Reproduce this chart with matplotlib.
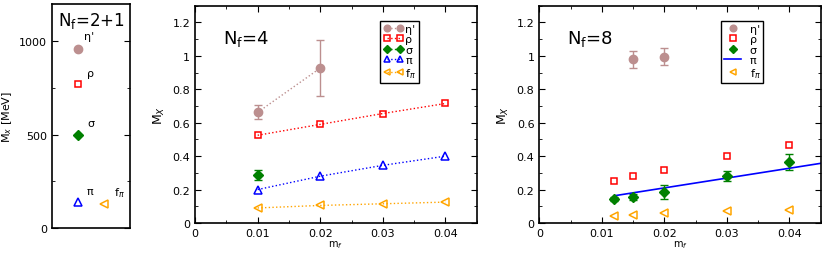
import matplotlib.pyplot as plt
from matplotlib.ticker import MultipleLocator

# -------------------------------------------------------------
# Data
# -------------------------------------------------------------
# Nf=2+1 (physical spectrum, MeV)
phys_labels = ["η'", "ρ", "σ", "π", "f$_\\pi$"]
phys_vals = [960, 770, 500, 138, 130]

# Nf=4
mf4 = [0.01, 0.02, 0.03, 0.04]
eta4_x = [0.01, 0.02]
eta4 = [0.662, 0.927]
eta4_err = [0.042, 0.17]
rho4 = [0.525, 0.59, 0.655, 0.715]
sig4_x = [0.01]
sig4 = [0.29]
sig4_err = [0.03]
pi4 = [0.20, 0.28, 0.345, 0.40]
fpi4 = [0.09, 0.105, 0.115, 0.125]

# Nf=8
mf8 = [0.012, 0.015, 0.02, 0.03, 0.04]
eta8_x = [0.015, 0.02]
eta8 = [0.98, 0.995]
eta8_err = [0.052, 0.05]
rho8 = [0.25, 0.28, 0.32, 0.403, 0.468]
sig8 = [0.145, 0.155, 0.185, 0.283, 0.363]
sig8_err = [0.012, 0.017, 0.04, 0.03, 0.048]
pi8_fit_x = [0.012, 0.045]
pi8_fit = [0.163, 0.357]
fpi8 = [0.043, 0.048, 0.058, 0.07, 0.079]

c_eta = '#bc8f8f'
c_rho = 'red'
c_sig = 'green'
c_pi = 'blue'
c_fpi = 'orange'

plt.rcParams['font.family'] = 'DejaVu Sans'
plt.rcParams['font.size'] = 8

fig = plt.figure(figsize=(8.3, 2.55), dpi=100)


def style_axes(ax):
    ax.tick_params(which='both', direction='in', top=True, right=True, labelsize=8)
    ax.tick_params(which='major', length=4)
    ax.tick_params(which='minor', length=2)
    for s in ax.spines.values():
        s.set_linewidth(1.2)


def mass_axes(ax):
    ax.set_xlim(0, 0.045)
    ax.set_ylim(0, 1.3)
    ax.xaxis.set_minor_locator(MultipleLocator(0.005))
    ax.yaxis.set_minor_locator(MultipleLocator(0.1))
    ax.set_xticks([0, 0.01, 0.02, 0.03, 0.04])
    ax.set_xticklabels(['0', '0.01', '0.02', '0.03', '0.04'])
    ax.set_yticks([0, 0.2, 0.4, 0.6, 0.8, 1.0, 1.2])
    ax.set_yticklabels(['0', '0.2', '0.4', '0.6', '0.8', '1', '1.2'])
    style_axes(ax)
    ax.set_xlabel('m$_f$', fontsize=7, labelpad=0)
    ax.set_ylabel('M$_X$', fontsize=9)


# -------------------------------------------------------------
# Panel 1: Nf=2+1
# -------------------------------------------------------------
ax1 = fig.add_axes([0.0627, 0.102, 0.094, 0.878])
ax1.set_xlim(0, 1)
ax1.set_ylim(0, 1200)
xs1 = [0.33, 0.33, 0.33, 0.33, 0.67]
ax1.plot(xs1[0], phys_vals[0], 'o', color=c_eta, ms=6)
ax1.plot(xs1[1], phys_vals[1], 's', mfc='none', mec=c_rho, ms=5, mew=1.1)
ax1.plot(xs1[2], phys_vals[2], 'D', color=c_sig, ms=5)
ax1.plot(xs1[3], phys_vals[3], '^', mfc='none', mec=c_pi, ms=6, mew=1.1)
ax1.plot(xs1[4], phys_vals[4], '<', mfc='none', mec=c_fpi, ms=6, mew=1.1)
offsets = [(0.08, 55), (0.12, 45), (0.12, 45), (0.12, 45), (0.12, 45)]
for x, v, lab, (dx, dy) in zip(xs1, phys_vals, phys_labels, offsets):
    ax1.text(x + dx, v + dy, lab, fontsize=8)
ax1.text(0.5, 0.975, 'N$_\\mathregular{f}$=2+1', transform=ax1.transAxes,
         ha='center', va='top', fontsize=12)
ax1.set_xticks([])
ax1.yaxis.set_major_locator(MultipleLocator(500))
ax1.yaxis.set_minor_locator(MultipleLocator(250))
style_axes(ax1)
ax1.tick_params(top=False)
ax1.set_ylabel('M$_x$ [MeV]', fontsize=8)

# -------------------------------------------------------------
# Panel 2: Nf=4
# -------------------------------------------------------------
ax2 = fig.add_axes([0.235, 0.1216, 0.3394, 0.852])
h_eta = ax2.errorbar(eta4_x, eta4, yerr=eta4_err, fmt='o', ls=':', lw=1, color=c_eta,
                     ms=6, capsize=3, elinewidth=1)
h_rho, = ax2.plot(mf4, rho4, 's', ls=':', lw=1, color=c_rho, mfc='none', ms=5, mew=1.1)
h_sig = ax2.errorbar(sig4_x, sig4, yerr=sig4_err, fmt='D', color=c_sig, ms=5,
                     capsize=3, elinewidth=1)
h_pi, = ax2.plot(mf4, pi4, '^', ls=':', lw=1, color=c_pi, mfc='none', ms=6, mew=1.1)
h_fpi, = ax2.plot(mf4, fpi4, '<', ls=':', lw=1, color=c_fpi, mfc='none', ms=6, mew=1.1)
h_sig_leg, = ax2.plot([], [], 'D', ls=':', lw=1, color=c_sig, ms=5)
h_eta_leg, = ax2.plot([], [], 'o', ls=':', lw=1, color=c_eta, ms=6)
mass_axes(ax2)
ax2.text(0.1, 0.83, 'N$_\\mathregular{f}$=4', transform=ax2.transAxes, fontsize=13)
ax2.legend([h_eta_leg, h_rho, h_sig_leg, h_pi, h_fpi], phys_labels,
           loc='upper right', bbox_to_anchor=(0.795, 0.93), numpoints=2, fontsize=8,
           frameon=True, fancybox=False, edgecolor='black', framealpha=1,
           handlelength=1.8, handletextpad=0.2, borderpad=0.25, markerscale=0.8,
           labelspacing=0.05, borderaxespad=0)

# -------------------------------------------------------------
# Panel 3: Nf=8
# -------------------------------------------------------------
ax3 = fig.add_axes([0.6498, 0.1216, 0.339, 0.852])
ax3.errorbar(eta8_x, eta8, yerr=eta8_err, fmt='o', color=c_eta, ms=6,
             capsize=3, elinewidth=1)
g_rho, = ax3.plot(mf8, rho8, 's', color=c_rho, mfc='none', ms=5, mew=1.1, ls='none')
ax3.errorbar(mf8, sig8, yerr=sig8_err, fmt='D', color=c_sig, ms=5,
             capsize=3, elinewidth=1)
g_pi, = ax3.plot(pi8_fit_x, pi8_fit, '-', color=c_pi, lw=1.2)
g_fpi, = ax3.plot(mf8, fpi8, '<', color=c_fpi, mfc='none', ms=6, mew=1.1, ls='none')
g_eta, = ax3.plot([], [], 'o', color=c_eta, ms=6, ls='none')
g_sig, = ax3.plot([], [], 'D', color=c_sig, ms=5, ls='none')
mass_axes(ax3)
ax3.text(0.1, 0.83, 'N$_\\mathregular{f}$=8', transform=ax3.transAxes, fontsize=13)
ax3.legend([g_eta, g_rho, g_sig, g_pi, g_fpi], phys_labels,
           loc='upper right', bbox_to_anchor=(0.796, 0.93), numpoints=1, fontsize=8,
           frameon=True, fancybox=False, edgecolor='black', framealpha=1,
           handlelength=1.5, handletextpad=0.8, borderpad=0.25, markerscale=0.8,
           labelspacing=0.05, borderaxespad=0)

fig.savefig('out.png', dpi=100)
